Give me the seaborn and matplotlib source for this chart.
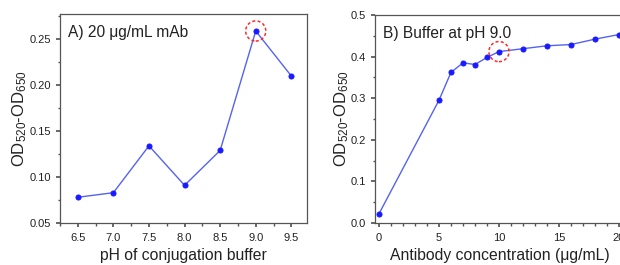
import numpy as np
import pandas as pd
import matplotlib
matplotlib.use("Agg")
import matplotlib.pyplot as plt
import matplotlib.ticker as mticker
import seaborn as sns

# ─── Datos ───────────────────────────────────────────────────
ph_values = [6.5, 7.0, 7.5, 8.0, 8.5, 9.0, 9.5]
od_ph = [0.078, 0.083, 0.134, 0.091, 0.129, 0.259, 0.210]

conc_values = [0, 5, 6, 7, 8, 9, 10, 12, 14, 16, 18, 20]
od_conc = [0.022, 0.295, 0.362, 0.385, 0.381, 0.398, 0.412,
           0.419, 0.426, 0.429, 0.442, 0.453]

best_ph = 9.0
best_conc = 10

# ─── Estilo ──────────────────────────────────────────────────
sns.set_theme(style="ticks")
plt.rcParams["font.family"] = ["Liberation Sans", "DejaVu Sans"]
plt.rcParams.update({
    "axes.edgecolor": "#555555",
    "axes.linewidth": 0.9,
    "xtick.color": "#555555",
    "ytick.color": "#555555",
    "xtick.labelcolor": "#222222",
    "ytick.labelcolor": "#222222",
    "xtick.labelsize": 8,
    "ytick.labelsize": 8,
    "xtick.major.size": 3,
    "ytick.major.size": 3,
    "xtick.minor.size": 1.8,
    "ytick.minor.size": 1.8,
    "mathtext.fontset": "custom",
    "mathtext.rm": "Liberation Sans",
    "mathtext.it": "Liberation Sans",
})
BLUE = "#1a1aff"
LINE = "#5563f0"
RED = "#ff2a2a"
TXT = "#222222"

fig = plt.figure(figsize=(6.2, 2.65), dpi=100)
ax1 = fig.add_axes([60 / 620, 42 / 265, 247 / 620, 209 / 265])
ax2 = fig.add_axes([375 / 620, 42 / 265, 250 / 620, 208 / 265])

df_a = pd.DataFrame({"ph": ph_values, "od": od_ph})
df_b = pd.DataFrame({"conc": conc_values, "od": od_conc})

marker_kw = dict(marker="o", markersize=3.6, markerfacecolor=BLUE,
                 markeredgecolor=BLUE)
circle_kw = dict(s=210, facecolors="none", edgecolors=RED,
                 linestyle=(0, (2, 1.5)), linewidths=1.1, zorder=5)
ylab = "OD$_{520}$-OD$_{650}$"

# ─── Panel A ────────────────────────────────────────────────
sns.lineplot(data=df_a, x="ph", y="od", ax=ax1, color=LINE, lw=1.0, **marker_kw)
ax1.scatter([best_ph], [od_ph[ph_values.index(best_ph)]], **circle_kw)
ax1.set_xlim(6.25, 9.72)
ax1.set_ylim(0.05, 0.2775)
ax1.set_xticks(ph_values)
ax1.set_xticklabels([f"{v:.1f}" for v in ph_values])
ax1.set_yticks([0.05, 0.10, 0.15, 0.20, 0.25])
ax1.yaxis.set_major_formatter(mticker.FormatStrFormatter("%.2f"))
ax1.xaxis.set_minor_locator(mticker.AutoMinorLocator(2))
ax1.yaxis.set_minor_locator(mticker.AutoMinorLocator(2))
ax1.set_xlabel("pH of conjugation buffer", fontsize=11.3, color=TXT, labelpad=3.5)
ax1.set_ylabel(ylab, fontsize=12, color=TXT, labelpad=0)
ax1.text(0.032, 0.91, "A) 20 μg/mL mAb", transform=ax1.transAxes,
         fontsize=11.2, color=TXT, va="center")

# ─── Panel B ────────────────────────────────────────────────
sns.lineplot(data=df_b, x="conc", y="od", ax=ax2, color=LINE, lw=1.0, **marker_kw)
ax2.scatter([best_conc], [od_conc[conc_values.index(best_conc)]], **circle_kw)
ax2.set_xlim(-0.33, 20.5)
ax2.set_ylim(0, 0.5)
ax2.set_xticks([0, 5, 10, 15, 20])
ax2.set_yticks([0.0, 0.1, 0.2, 0.3, 0.4, 0.5])
ax2.yaxis.set_major_formatter(mticker.FormatStrFormatter("%.1f"))
ax2.xaxis.set_minor_locator(mticker.AutoMinorLocator(5))
ax2.yaxis.set_minor_locator(mticker.AutoMinorLocator(2))
ax2.set_xlabel("Antibody concentration (μg/mL)", fontsize=11.3, color=TXT, labelpad=3.5)
ax2.set_ylabel(ylab, fontsize=12, color=TXT, labelpad=0)
ax2.text(0.032, 0.91, "B) Buffer at pH 9.0", transform=ax2.transAxes,
         fontsize=11.2, color=TXT, va="center")

for ax in (ax1, ax2):
    ax.tick_params(which="both", direction="out")
    ax.tick_params(axis="x", pad=4)

plt.savefig("out.png", dpi=100)
plt.close()
